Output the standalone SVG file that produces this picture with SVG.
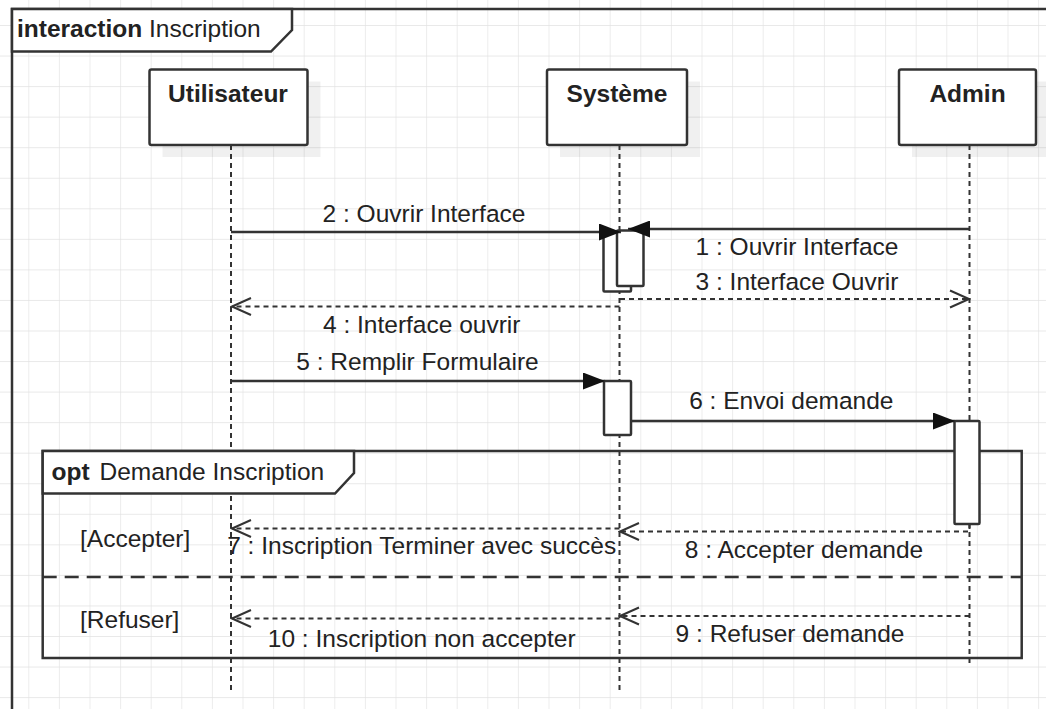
<svg xmlns="http://www.w3.org/2000/svg" width="1046" height="709" viewBox="0 0 1046 709">
<style>
text{font-family:"Liberation Sans",Arial,sans-serif;font-size:24.5px;fill:#222}
.b{font-weight:bold}
.frame{fill:none;stroke:#333;stroke-width:2.5}
.lab{fill:#fff;stroke:#333;stroke-width:2.5}
.head{fill:#fff;stroke:#333;stroke-width:2.5}
.shadow{fill:#000;fill-opacity:0.06}
.life{fill:none;stroke:#333;stroke-width:2;stroke-dasharray:5 4}
.act{fill:#fff;stroke:#333;stroke-width:2.5}
.sync{fill:none;stroke:#333;stroke-width:2.4;marker-end:url(#block)}
.ret{fill:none;stroke:#333;stroke-width:2;stroke-dasharray:5 4;marker-end:url(#open)}
.sep{fill:none;stroke:#333;stroke-width:2.5;stroke-dasharray:14 8}
</style>
<defs>
<pattern id="grid" patternUnits="userSpaceOnUse" x="28.3" y="25" width="30.6" height="30.55">
<path d="M0,0 V30.55 M0,0 H30.6" fill="none" stroke="#e2e2e2" stroke-width="1.3"/>
</pattern>
<marker id="block" markerUnits="userSpaceOnUse" viewBox="0 0 22 17" markerWidth="22" markerHeight="17" refX="22" refY="8.5" orient="auto">
<path d="M0,0 L22,8.5 L0,17 Z" fill="#111"/>
</marker>
<marker id="open" markerUnits="userSpaceOnUse" viewBox="-2 -2 23 21" markerWidth="23" markerHeight="21" refX="19" refY="8.5" orient="auto">
<path d="M0,0 L19,8.5 L0,17" fill="none" stroke="#333" stroke-width="2"/>
</marker>
</defs>
<rect width="1046" height="709" fill="#fff"/>
<rect width="1046" height="709" fill="url(#grid)"/>

<g id="frame-interaction">
<path class="frame" d="M12,709 V9 H1050"/>
<path class="lab" d="M12,9 H292 V30 L271,51.5 H12 Z"/>
<text x="17" y="37"><tspan class="b">interaction</tspan><tspan x="149">Inscription</tspan></text>
</g>

<g id="lifeline-utilisateur">
<rect class="shadow" x="162.5" y="81.5" width="158" height="75.5"/>
<line class="life" x1="231" y1="145" x2="231" y2="690"/>
<rect class="head" x="149.5" y="69.5" width="158" height="75.5" rx="2"/>
<text class="b" x="228" y="101.5" text-anchor="middle">Utilisateur</text>
</g>

<g id="lifeline-systeme">
<rect class="shadow" x="560" y="81.5" width="140" height="75.5"/>
<line class="life" x1="619.5" y1="145" x2="619.5" y2="690"/>
<rect class="head" x="547" y="69.5" width="140" height="75.5" rx="2"/>
<text class="b" x="617" y="102" text-anchor="middle">Système</text>
</g>

<g id="lifeline-admin">
<rect class="shadow" x="912" y="81.5" width="137" height="75.5"/>
<line class="life" x1="969.5" y1="145" x2="969.5" y2="667"/>
<rect class="head" x="899" y="69.5" width="137" height="75.5" rx="2"/>
<text class="b" x="967.5" y="102" text-anchor="middle">Admin</text>
</g>

<g id="fragment-opt">
<rect class="frame" x="42.7" y="451" width="979" height="207"/>
<path class="lab" d="M42.7,451 H354 V473 L335,493.5 H42.7 Z"/>
<text x="51.5" y="480"><tspan class="b">opt</tspan><tspan x="99.5">Demande Inscription</tspan></text>
<line class="sep" x1="42.7" y1="577" x2="1021.7" y2="577"/>
<text x="80" y="546.5">[Accepter]</text>
<text x="80" y="628">[Refuser]</text>
</g>

<g id="activations">
<rect id="act-sys-1" class="act" x="603.5" y="232.5" width="27.5" height="59" rx="1"/>
<rect id="act-sys-2" class="act" x="617" y="230.5" width="26.5" height="55.5" rx="1"/>
<rect id="act-sys-3" class="act" x="604" y="381" width="27" height="54" rx="1"/>
<rect id="act-admin" class="act" x="954.5" y="421" width="25" height="103" rx="1"/>
</g>

<g id="connectors">
<line class="sync" x1="969.5" y1="229" x2="628" y2="229"/>
<line class="sync" x1="231" y1="232" x2="621" y2="232"/>
<line class="ret" x1="620" y1="299" x2="969" y2="299"/>
<line class="ret" x1="619.5" y1="306.5" x2="232" y2="306.5"/>
<line class="sync" x1="231" y1="381" x2="605" y2="381"/>
<line class="sync" x1="631" y1="421" x2="955" y2="421"/>
<line class="ret" x1="619.5" y1="528.5" x2="232" y2="528.5"/>
<polyline class="ret" points="969.5,524 969.5,531.5 620,531.5"/>
<line class="ret" x1="969.5" y1="616" x2="620" y2="616"/>
<line class="ret" x1="619.5" y1="618.5" x2="232" y2="618.5"/>
</g>

<g id="labels">
<text x="797" y="255" text-anchor="middle">1 : Ouvrir Interface</text>
<text x="424" y="221.5" text-anchor="middle">2 : Ouvrir Interface</text>
<text x="797" y="289.5" text-anchor="middle">3 : Interface Ouvrir</text>
<text x="421.7" y="333.3" text-anchor="middle">4 : Interface ouvrir</text>
<text x="417.5" y="370" text-anchor="middle">5 : Remplir Formulaire</text>
<text x="791.3" y="409.3" text-anchor="middle">6 : Envoi demande</text>
<text x="421.7" y="554" text-anchor="middle">7 : Inscription Terminer avec succès</text>
<text x="804" y="558" text-anchor="middle">8 : Accepter demande</text>
<text x="790" y="641.7" text-anchor="middle">9 : Refuser demande</text>
<text x="421.7" y="646.7" text-anchor="middle">10 : Inscription non accepter</text>
</g>
</svg>
